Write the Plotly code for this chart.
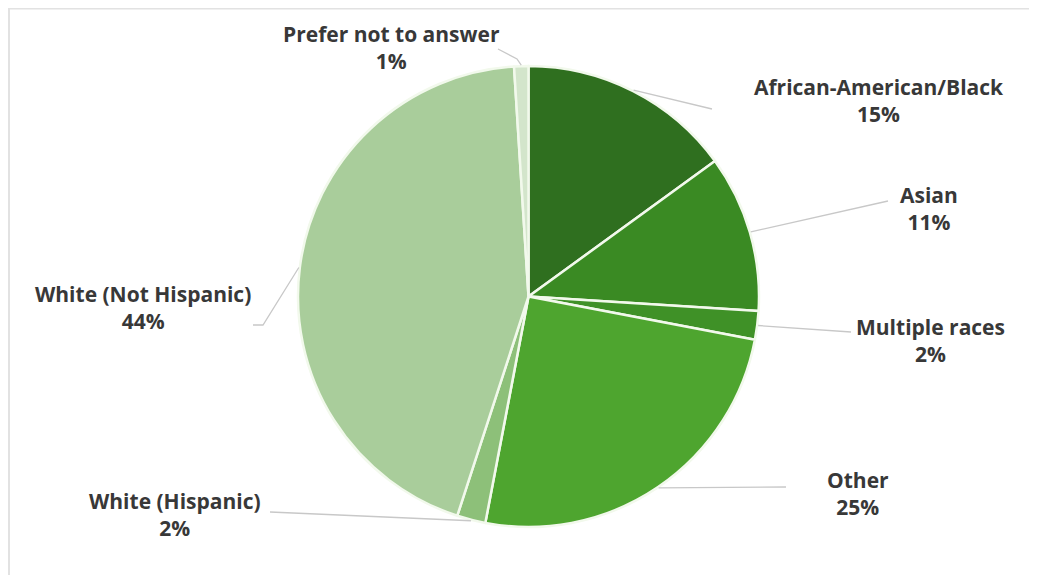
import math
import plotly.graph_objects as go

# ---- data ----
categories = ["African-American/Black", "Asian", "Multiple races", "Other",
              "White (Hispanic)", "White (Not Hispanic)", "Prefer not to answer"]
values = [15, 11, 2, 25, 2, 44, 1]
colors = ["#2f6f1f", "#3a8a23", "#3f9127", "#4ea52f", "#8dc079", "#a9cd9b", "#d3e5cb"]

PAGE_W, PAGE_H = 1037, 583
OFF = 8  # default body margin of the html page
W, H = PAGE_W - 2 * OFF, PAGE_H - 2 * OFF
CX, CY, R = 528.5, 296.5, 230.5   # page pixel coordinates

# label layout (page-pixel positions of text centres; leader-line end points)
label_pos = {
    "African-American/Black": (879, 101),
    "Asian": (929, 208),
    "Multiple races": (930, 340),
    "Other": (858, 493),
    "White (Hispanic)": (175, 514),
    "White (Not Hispanic)": (143, 307),
    "Prefer not to answer": (391, 47),
}
leader_pts = {
    "African-American/Black": [(712, 109)],
    "Asian": [(888, 201)],
    "Multiple races": [(851, 332)],
    "Other": [(786, 487)],
    "White (Hispanic)": [(270, 512)],
    "White (Not Hispanic)": [(263, 325), (253, 325)],
    "Prefer not to answer": [(517, 59), (498, 49)],
}

def px(x):
    return (x - OFF) / W

def py(y):
    return 1 - (y - OFF) / H

fig = go.Figure(go.Pie(
    labels=categories,
    values=values,
    sort=False,
    direction="clockwise",
    rotation=0,
    marker=dict(colors=colors, line=dict(color="#f2f9ec", width=2.5)),
    textinfo="none",
    hoverinfo="label+percent",
    showlegend=False,
    domain=dict(x=[px(CX - R), px(CX + R)], y=[py(CY + R), py(CY - R)]),
))

total = sum(values)
cum = 0
shapes = []
annotations = []
for cat, v in zip(categories, values):
    mid = (cum + v / 2) / total * 2 * math.pi
    cum += v
    sx = CX + (R + 1) * math.sin(mid)
    sy = CY - (R + 1) * math.cos(mid)
    pts = [(sx, sy)] + leader_pts[cat]
    path = "M " + " L ".join(f"{px(x):.5f},{py(y):.5f}" for x, y in pts)
    shapes.append(dict(type="path", xref="paper", yref="paper", path=path,
                       line=dict(color="#c8c8c8", width=1.3)))
    lx, ly = label_pos[cat]
    pct = round(v / total * 100)
    annotations.append(dict(
        x=px(lx), y=py(ly), xref="paper", yref="paper", showarrow=False,
        text=f"<b>{cat}</b><br><b>{pct}%</b>", align="center",
        font=dict(family="Open Sans, sans-serif", size=21, color="#383838"),
        xanchor="center", yanchor="middle",
    ))

# light frame (top and left)
shapes.append(dict(type="line", xref="paper", yref="paper",
                   x0=0, x1=1, y0=0.999, y1=0.999,
                   line=dict(color="#e2e2e2", width=2)))
shapes.append(dict(type="line", xref="paper", yref="paper",
                   x0=0.001, x1=0.001, y0=1, y1=0,
                   line=dict(color="#e2e2e2", width=2)))

fig.update_layout(
    width=W, height=H,
    margin=dict(l=0, r=0, t=0, b=0),
    paper_bgcolor="white",
    plot_bgcolor="white",
    shapes=shapes,
    annotations=annotations,
)

fig.write_html("out.html")
